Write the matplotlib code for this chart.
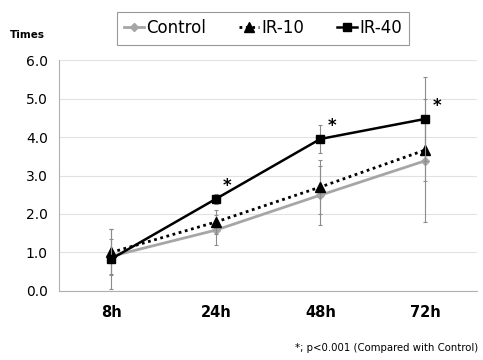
import numpy as np
import matplotlib
matplotlib.use("Agg")
import matplotlib.pyplot as plt
from matplotlib.lines import Line2D

# values
times = ["8h", "24h", "48h", "72h"]
control = [0.90, 1.58, 2.49, 3.38]
control_err = [0.45, 0.38, 0.77, 1.60]
ir10 = [1.00, 1.79, 2.70, 3.66]
ir10_err = [0.60, 0.30, 0.70, 0.80]
ir40 = [0.83, 2.39, 3.95, 4.47]
ir40_err = [0.78, 0.12, 0.36, 1.10]
star_flags = [False, True, True, True]

plt.rcParams['font.family'] = ['DejaVu Sans']

fig = plt.figure(figsize=(4.83, 3.6), dpi=100)
ax = fig.add_axes([0.122, 0.192, 0.866, 0.641])

x = np.arange(len(times))
err_kw = dict(ecolor='#8c8c8c', elinewidth=0.8, capsize=1.5, capthick=0.8)

styles = {
    'Control': dict(color='#a6a6a6', lw=2.0, marker='D', ms=4.5),
    'IR-10': dict(color='black', lw=2.0, ls=(0, (1, 1.3)), marker='^', ms=6.5),
    'IR-40': dict(color='black', lw=1.8, marker='s', ms=6),
}

ax.errorbar(x, control, yerr=control_err, zorder=3, **styles['Control'], **err_kw)
ax.errorbar(x, ir10, yerr=ir10_err, zorder=4, **styles['IR-10'], **err_kw)
ax.errorbar(x, ir40, yerr=ir40_err, zorder=5, **styles['IR-40'], **err_kw)

# significance stars
for i, flag in enumerate(star_flags):
    if flag:
        ax.text(x[i] + 0.07, ir40[i] + 0.33, '*', fontsize=12,
                fontweight='bold', ha='left', va='center')

ax.set_xlim(-0.5, 3.5)
ax.set_ylim(0, 6)
ax.set_xticks(x)
ax.set_xticklabels(times, fontsize=10.5, fontweight='bold')
ax.set_yticks(np.arange(0, 6.1, 1.0))
ax.set_yticklabels([f"{v:.1f}" for v in np.arange(0, 6.1, 1.0)], fontsize=10)
ax.tick_params(axis='both', length=0, pad=10)
ax.tick_params(axis='y', pad=8)

ax.yaxis.grid(True, color='#e2e2e2', lw=0.8)
ax.set_axisbelow(True)
for s in ['top', 'right']:
    ax.spines[s].set_visible(False)
ax.spines['left'].set_color('#b0b0b0')
ax.spines['bottom'].set_color('#b0b0b0')

handles = [Line2D([], [], **styles[k]) for k in styles]
leg = ax.legend(handles, list(styles), ncol=3, loc='center',
                bbox_to_anchor=(0.488, 1.139), fontsize=12, frameon=True,
                fancybox=False, handlelength=1.2, handletextpad=0.1,
                columnspacing=2.0, borderpad=0.45, borderaxespad=0)
leg.get_frame().set_edgecolor('#808080')
leg.get_frame().set_linewidth(0.8)

fig.text(0.02, 0.895, 'Times', fontsize=7.5, fontweight='bold')
fig.text(0.99, 0.025, '*; p<0.001 (Compared with Control)', fontsize=7.3,
         ha='right')

fig.savefig('out.png', dpi=100)
